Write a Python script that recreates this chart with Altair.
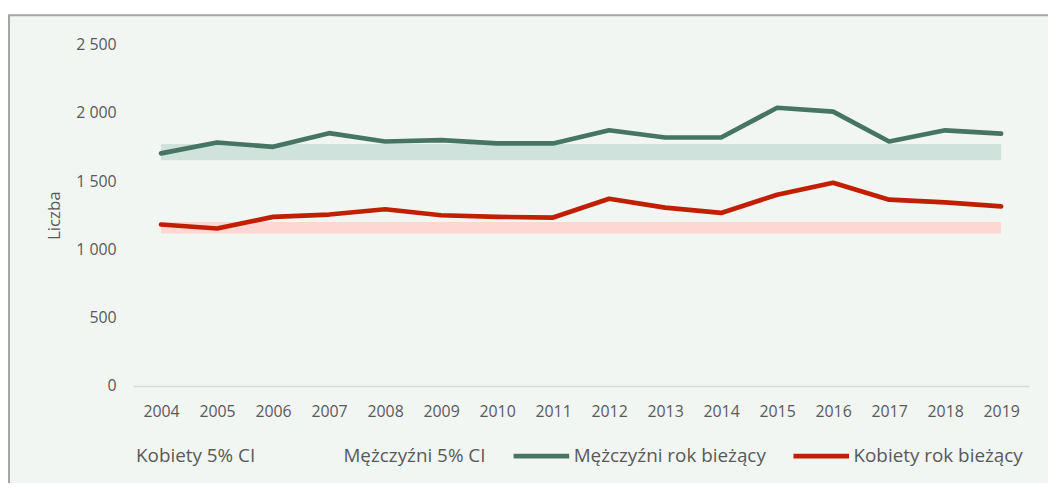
import altair as alt
import pandas as pd

# ---- data ----
years = [str(y) for y in range(2004, 2020)]
men_current = [1703, 1783, 1751, 1851, 1790, 1800, 1776, 1776, 1872, 1819, 1819, 2037, 2009, 1790, 1872, 1848]
women_current = [1182, 1153, 1238, 1255, 1294, 1250, 1238, 1233, 1371, 1306, 1267, 1400, 1488, 1364, 1344, 1315]
men_ci_low = [1653] * 16
men_ci_high = [1771] * 16
women_ci_low = [1117] * 16
women_ci_high = [1201] * 16

series_names = ["Kobiety 5% CI", "Mężczyźni 5% CI", "Mężczyźni rok bieżący", "Kobiety rok bieżący"]
series_colors = ["transparent", "transparent", "#467663", "#c21f00"]
y_ticks = [0, 500, 1000, 1500, 2000, 2500]

FONT = "Open Sans"
TXT = "#595959"
W, H = 903, 344
PAD = {"left": 126, "top": 35, "right": 19, "bottom": 96}

lines_df = pd.DataFrame({
    "rok": years * 2,
    "liczba": men_current + women_current,
    "seria": ["Mężczyźni rok bieżący"] * 16 + ["Kobiety rok bieżący"] * 16,
})
ci_df = pd.DataFrame({
    "rok": years * 2,
    "low": men_ci_low + women_ci_low,
    "high": men_ci_high + women_ci_high,
    "seria": ["Mężczyźni 5% CI"] * 16 + ["Kobiety 5% CI"] * 16,
})

x_enc = alt.X(
    "rok:O",
    sort=years,
    scale=alt.Scale(type="point", padding=0.5),
    axis=alt.Axis(
        title=None, labelAngle=0, ticks=False, tickSize=0, labelPadding=18,
        labelFont=FONT, labelFontSize=16, labelColor=TXT,
        domainColor="#d9d9d9", domainWidth=1.5, grid=False, zindex=1,
    ),
)
y_scale = alt.Scale(domain=[0, 2500], nice=False, zero=True)

# frame panel (decoration)
frame = alt.Chart(pd.DataFrame({"a": [0]})).mark_rect(
    fill="#f2f6f3", stroke="#a6a6a6", strokeWidth=2
).encode(
    x=alt.value(-PAD["left"] + 1),
    x2=alt.value(W + PAD["right"] + 20),
    y=alt.value(-PAD["top"] + 5.5),
    y2=alt.value(H + PAD["bottom"] + 20),
)

bands = alt.Chart(ci_df).mark_area(opacity=1).encode(
    x=x_enc,
    y=alt.Y(
        "low:Q", scale=y_scale,
        axis=alt.Axis(
            values=y_ticks, title="Liczba", grid=False, domain=False, ticks=False, tickSize=0,
            labelPadding=17, labelFont=FONT, labelFontSize=16, labelColor=TXT,
            labelExpr="replace(format(datum.value, ','), ',', ' ')",
            titleFont=FONT, titleFontSize=17, titleFontWeight="normal", titleColor=TXT,
            titleAngle=-90, titleX=-79, titleY=H / 2, titleAlign="center", titleBaseline="middle",
            zindex=1,
        ),
    ),
    y2="high:Q",
    fill=alt.Fill(
        "seria:N",
        scale=alt.Scale(domain=["Mężczyźni 5% CI", "Kobiety 5% CI"], range=["#cfe2dc", "#fdd8d2"]),
        legend=None,
    ),
    detail="seria:N",
)

lines = alt.Chart(lines_df).mark_line(strokeWidth=4.7, strokeCap="round", strokeJoin="round").encode(
    x=x_enc,
    y=alt.Y("liczba:Q", scale=y_scale),
    color=alt.Color(
        "seria:N",
        scale=alt.Scale(domain=series_names, range=series_colors),
        legend=alt.Legend(
            title=None, orient="none", legendX=-60, legendY=384, direction="horizontal",
            symbolType="stroke", symbolSize=3136, symbolStrokeWidth=5,
            labelFont=FONT, labelFontSize=19, labelColor=TXT, labelOffset=2,
            columnPadding=17, padding=0, labelLimit=0, zindex=1,
        ),
    ),
)

chart = alt.layer(frame, bands, lines).properties(
    width=W, height=H, padding=PAD, autosize=alt.AutoSizeParams(type="none"),
).configure(background="white").configure_view(stroke=None)

chart.save("out.html", embed_options={"renderer": "svg", "actions": False})
